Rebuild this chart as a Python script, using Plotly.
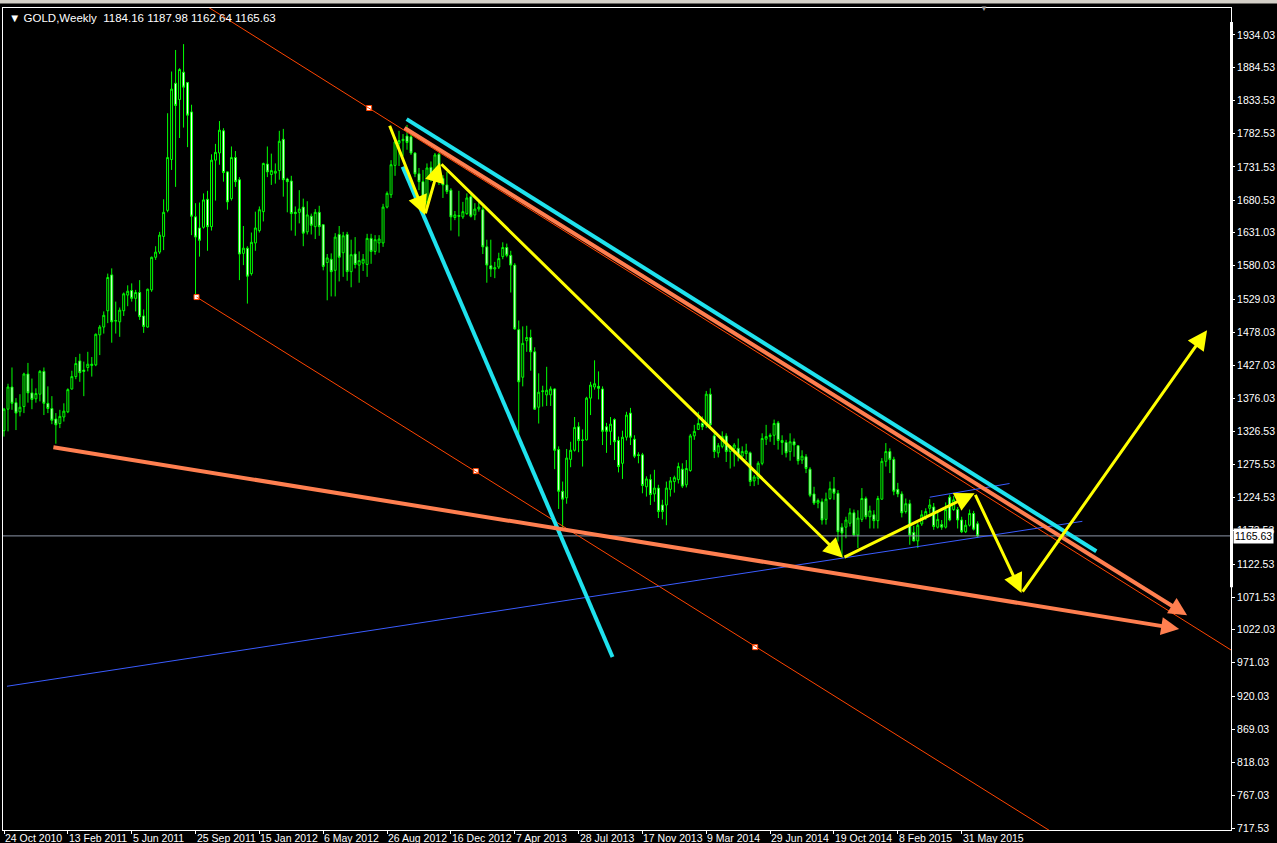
import plotly.graph_objects as go

# weekly GOLD bars, first bar = week of 24 Oct 2010
opens = [
    1327, 1360, 1394, 1370, 1356, 1364, 1414, 1385, 1376, 1383,
    1418, 1369, 1361, 1345, 1338, 1348, 1356, 1391, 1410, 1434,
    1420, 1424, 1427, 1428, 1474, 1486, 1511, 1566, 1495, 1494,
    1511, 1535, 1542, 1530, 1539, 1503, 1486, 1543, 1593, 1601,
    1625, 1665, 1743, 1860, 1835, 1877, 1861, 1816, 1655, 1638,
    1639, 1682, 1640, 1742, 1753, 1787, 1724, 1683, 1746, 1712,
    1599, 1607, 1568, 1615, 1634, 1663, 1736, 1720, 1722, 1726,
    1774, 1713, 1710, 1662, 1662, 1670, 1632, 1656, 1640, 1662,
    1643, 1585, 1590, 1573, 1628, 1600, 1628, 1571, 1598, 1581,
    1584, 1582, 1622, 1602, 1615, 1615, 1670, 1689, 1734, 1768,
    1772, 1779, 1778, 1753, 1721, 1709, 1678, 1731, 1714, 1751,
    1714, 1704, 1696, 1654, 1657, 1655, 1660, 1686, 1658, 1667,
    1666, 1609, 1580, 1575, 1578, 1594, 1608, 1596, 1581, 1482,
    1409, 1465, 1470, 1448, 1363, 1387, 1382, 1382, 1391, 1298,
    1234, 1224, 1283, 1297, 1333, 1313, 1313, 1377, 1394, 1395,
    1391, 1333, 1326, 1344, 1312, 1277, 1317, 1354, 1314, 1290,
    1290, 1241, 1252, 1230, 1239, 1213, 1213, 1237, 1249, 1252,
    1268, 1244, 1266, 1319, 1329, 1338, 1336, 1383, 1319, 1293,
    1303, 1319, 1295, 1300, 1300, 1288, 1292, 1293, 1250, 1254,
    1277, 1314, 1318, 1320, 1339, 1312, 1309, 1295, 1310, 1304,
    1282, 1287, 1268, 1230, 1216, 1218, 1191, 1223, 1238, 1231,
    1179, 1179, 1185, 1201, 1167, 1191, 1223, 1195, 1198, 1189,
    1222, 1280, 1295, 1283, 1237, 1230, 1203, 1215, 1171, 1158,
    1184, 1193, 1208, 1210, 1179, 1183, 1179, 1225, 1206, 1206,
    1190, 1172, 1182, 1200, 1184.16,
]
highs = [
    1362, 1399, 1424, 1377, 1383, 1416, 1431, 1407, 1392, 1420,
    1424, 1395, 1380, 1354, 1359, 1369, 1392, 1419, 1440, 1445,
    1433, 1448, 1440, 1476, 1489, 1510, 1568, 1576, 1525, 1516,
    1539, 1550, 1553, 1543, 1558, 1513, 1545, 1594, 1610, 1632,
    1682, 1814, 1878, 1911, 1883, 1920, 1862, 1827, 1676, 1677,
    1691, 1695, 1751, 1767, 1802, 1791, 1725, 1763, 1756, 1716,
    1641, 1610, 1631, 1663, 1671, 1738, 1763, 1752, 1737, 1787,
    1790, 1715, 1718, 1671, 1696, 1683, 1679, 1660, 1667, 1672,
    1644, 1598, 1599, 1630, 1641, 1632, 1632, 1620, 1624, 1602,
    1598, 1629, 1629, 1627, 1627, 1675, 1694, 1742, 1777, 1787,
    1782, 1796, 1783, 1754, 1730, 1727, 1737, 1740, 1753, 1753,
    1719, 1724, 1699, 1664, 1695, 1678, 1691, 1689, 1676, 1680,
    1671, 1620, 1620, 1586, 1600, 1616, 1614, 1603, 1584, 1496,
    1487, 1488, 1482, 1455, 1415, 1396, 1425, 1395, 1392, 1303,
    1249, 1299, 1310, 1348, 1340, 1329, 1379, 1402, 1435, 1418,
    1395, 1339, 1348, 1346, 1318, 1327, 1356, 1362, 1320, 1294,
    1293, 1257, 1260, 1267, 1244, 1221, 1249, 1256, 1258, 1278,
    1277, 1282, 1322, 1336, 1356, 1349, 1388, 1392, 1323, 1308,
    1326, 1323, 1305, 1308, 1315, 1303, 1307, 1295, 1259, 1280,
    1323, 1336, 1323, 1344, 1342, 1320, 1313, 1323, 1315, 1305,
    1297, 1291, 1271, 1241, 1223, 1223, 1232, 1249, 1256, 1236,
    1185, 1195, 1208, 1206, 1205, 1239, 1226, 1212, 1205, 1227,
    1285, 1308, 1300, 1287, 1247, 1234, 1223, 1221, 1181, 1185,
    1205, 1208, 1222, 1216, 1203, 1190, 1217, 1229, 1227, 1210,
    1195, 1190, 1206, 1204, 1187.98,
]
lows = [
    1318, 1326, 1359, 1328, 1349, 1354, 1370, 1360, 1370, 1372,
    1351, 1354, 1337, 1307, 1331, 1341, 1354, 1390, 1406, 1402,
    1380, 1418, 1410, 1426, 1443, 1476, 1492, 1462, 1476, 1471,
    1503, 1518, 1525, 1510, 1497, 1477, 1485, 1540, 1589, 1598,
    1604, 1662, 1727, 1701, 1776, 1792, 1762, 1627, 1533, 1594,
    1637, 1603, 1634, 1680, 1735, 1709, 1666, 1680, 1701, 1558,
    1581, 1522, 1565, 1603, 1631, 1648, 1716, 1704, 1706, 1712,
    1686, 1662, 1634, 1626, 1645, 1610, 1628, 1628, 1621, 1626,
    1573, 1527, 1533, 1533, 1556, 1563, 1557, 1547, 1576, 1554,
    1572, 1563, 1583, 1597, 1600, 1609, 1668, 1684, 1718, 1733,
    1748, 1758, 1750, 1716, 1696, 1663, 1672, 1709, 1712, 1704,
    1684, 1690, 1634, 1650, 1625, 1652, 1658, 1654, 1650, 1663,
    1598, 1554, 1563, 1561, 1575, 1590, 1593, 1539, 1482, 1322,
    1395, 1448, 1419, 1359, 1338, 1364, 1365, 1365, 1268, 1207,
    1178, 1215, 1271, 1295, 1294, 1272, 1312, 1351, 1390, 1375,
    1305, 1293, 1305, 1282, 1263, 1253, 1312, 1305, 1285, 1277,
    1231, 1226, 1213, 1218, 1193, 1191, 1182, 1226, 1232, 1246,
    1239, 1240, 1264, 1313, 1328, 1328, 1331, 1331, 1285, 1286,
    1300, 1279, 1269, 1272, 1280, 1283, 1282, 1242, 1242, 1244,
    1274, 1305, 1310, 1305, 1298, 1290, 1286, 1281, 1287, 1275,
    1276, 1262, 1225, 1213, 1208, 1183, 1183, 1221, 1221, 1157,
    1134, 1162, 1180, 1165, 1147, 1187, 1191, 1177, 1177, 1177,
    1221, 1272, 1262, 1228, 1225, 1194, 1200, 1152, 1157, 1147,
    1181, 1190, 1200, 1175, 1177, 1175, 1177, 1188, 1204, 1177,
    1170, 1170, 1180, 1174, 1162.64,
]
closes = [
    1360, 1394, 1369, 1354, 1363, 1414, 1385, 1375, 1384, 1418,
    1369, 1361, 1343, 1336, 1349, 1357, 1390, 1410, 1430, 1416,
    1418, 1429, 1429, 1475, 1486, 1504, 1562, 1494, 1496, 1512,
    1537, 1541, 1530, 1539, 1502, 1487, 1544, 1593, 1601, 1627,
    1662, 1746, 1851, 1826, 1881, 1854, 1811, 1656, 1624, 1619,
    1681, 1640, 1742, 1754, 1788, 1723, 1678, 1746, 1709, 1598,
    1607, 1564, 1616, 1638, 1666, 1737, 1724, 1726, 1725, 1771,
    1712, 1709, 1660, 1660, 1667, 1630, 1658, 1642, 1662, 1640,
    1579, 1592, 1571, 1624, 1593, 1626, 1571, 1597, 1582, 1588,
    1590, 1622, 1602, 1620, 1621, 1670, 1691, 1735, 1770, 1772,
    1774, 1769, 1753, 1721, 1709, 1678, 1730, 1714, 1750, 1714,
    1704, 1694, 1655, 1658, 1656, 1663, 1684, 1656, 1667, 1670,
    1609, 1581, 1575, 1577, 1591, 1608, 1596, 1581, 1483, 1402,
    1461, 1470, 1448, 1360, 1386, 1388, 1389, 1391, 1297, 1234,
    1222, 1285, 1297, 1332, 1312, 1312, 1377, 1397, 1399, 1392,
    1326, 1326, 1337, 1310, 1272, 1317, 1351, 1317, 1288, 1289,
    1243, 1253, 1229, 1239, 1203, 1203, 1239, 1250, 1255, 1272,
    1242, 1269, 1319, 1326, 1338, 1333, 1383, 1336, 1295, 1304,
    1318, 1295, 1303, 1305, 1288, 1295, 1296, 1249, 1256, 1277,
    1315, 1318, 1320, 1338, 1312, 1309, 1293, 1310, 1305, 1281,
    1288, 1269, 1228, 1216, 1220, 1190, 1222, 1238, 1231, 1172,
    1170, 1190, 1201, 1167, 1193, 1223, 1195, 1204, 1189, 1223,
    1280, 1295, 1283, 1234, 1230, 1201, 1215, 1167, 1158, 1182,
    1198, 1203, 1213, 1180, 1191, 1179, 1206, 1190, 1221, 1190,
    1172, 1182, 1200, 1176, 1165.63,
]
bars = list(range(len(closes)))

date_labels = ["24 Oct 2010", "13 Feb 2011", "5 Jun 2011", "25 Sep 2011", "15 Jan 2012",
               "6 May 2012", "26 Aug 2012", "16 Dec 2012", "7 Apr 2013", "28 Jul 2013",
               "17 Nov 2013", "9 Mar 2014", "29 Jun 2014", "19 Oct 2014", "8 Feb 2015",
               "31 May 2015"]
date_bars = [16 * k for k in range(len(date_labels))]

price_ticks = [1934.03, 1884.53, 1833.53, 1782.53, 1731.53, 1680.53, 1631.03, 1580.03,
               1529.03, 1478.03, 1427.03, 1376.03, 1326.53, 1275.53, 1224.53, 1173.53,
               1122.53, 1071.53, 1022.03, 971.03, 920.03, 869.03, 818.03, 767.03, 717.53]

last_price = 1165.63
title_text = "GOLD,Weekly  1184.16 1187.98 1162.64 1165.63"

# drawn objects, (bar, price) pairs
channel_top = [(48.25, 1988), (310, 981)]
channel_bottom = [(48.25, 1532), (310, 530)]
channel_points = [(91.5, 1822), (48.25, 1532), (118.25, 1265), (188.25, 995)]
cyan_lines = [[(100.9, 1805), (273.75, 1142)], [(99.9, 1732), (152.5, 980)]]
blue_lines = [[(0.75, 935), (270.25, 1188)], [(232, 1225), (252, 1246)]]
coral_arrows = [[(12, 1302), (294.5, 1023)], [(100, 1793), (296.5, 1044)]]
yellow_path = [(96.5, 1797), (105.5, 1658), (109.25, 1738), (210.25, 1132),
               (243.25, 1231), (255, 1078), (301.5, 1481)]
scale_bar = (1087, 1954)   # thick part of the right border

fig = go.Figure()

fig.add_trace(go.Candlestick(
    x=bars, open=opens, high=highs, low=lows, close=closes,
    increasing=dict(line=dict(color="#00ff00", width=1), fillcolor="black"),
    decreasing=dict(line=dict(color="#00ff00", width=1), fillcolor="white"),
    hoverinfo="skip",
))

shapes = []
def seg(p0, p1, color, width):
    shapes.append(dict(type="line", xref="x", yref="y", x0=p0[0], y0=p0[1],
                       x1=p1[0], y1=p1[1], line=dict(color=color, width=width)))

shapes.append(dict(type="line", xref="paper", yref="y", x0=0, x1=1,
                   y0=last_price, y1=last_price, line=dict(color="#8c96a8", width=1)))
seg(channel_top[0], channel_top[1], "#ff4500", 1)
seg(channel_bottom[0], channel_bottom[1], "#ff4500", 1)
for ln in blue_lines:
    seg(ln[0], ln[1], "#3a5cff", 1)
for ln in cyan_lines:
    seg(ln[0], ln[1], "#1fe2ee", 4)

# toolbar strip above the chart
shapes.append(dict(type="rect", xref="paper", yref="paper", x0=-0.01, x1=1.05,
                   y0=1.0055, y1=1.02, fillcolor="#d4d0c8", line=dict(width=0)))
# thick white segment on the right border
shapes.append(dict(type="rect", xref="paper", yref="y", xsizemode="pixel", xanchor=1,
                   x0=-1, x1=2, y0=scale_bar[0], y1=scale_bar[1],
                   fillcolor="white", line=dict(width=0)))

fig.add_trace(go.Scatter(
    x=[p[0] for p in channel_points], y=[p[1] for p in channel_points],
    mode="markers", hoverinfo="skip",
    marker=dict(symbol="square", size=5, color="white", line=dict(color="#ff4500", width=1)),
))

annotations = []
for ln in coral_arrows:
    annotations.append(dict(x=ln[1][0], y=ln[1][1], ax=ln[0][0], ay=ln[0][1],
                            xref="x", yref="y", axref="x", ayref="y", text="",
                            showarrow=True, arrowhead=2, arrowsize=0.9, arrowwidth=4,
                            arrowcolor="#ff7f50", standoff=0))
for a, b in zip(yellow_path[:-1], yellow_path[1:]):
    annotations.append(dict(x=b[0], y=b[1], ax=a[0], ay=a[1],
                            xref="x", yref="y", axref="x", ayref="y", text="",
                            showarrow=True, arrowhead=2, arrowsize=1.3, arrowwidth=3,
                            arrowcolor="#ffff00", standoff=0))

for lab, b in zip(date_labels, date_bars):
    annotations.append(dict(x=b, y=0, xref="x", yref="paper", text=lab, showarrow=False,
                            xanchor="left", yanchor="top", xshift=-1, yshift=0,
                            font=dict(family="Liberation Sans", size=10.5, color="white")))

annotations.append(dict(x=0, y=1, xref="paper", yref="paper", showarrow=False,
                        text="\u25bc " + title_text.replace(" ", "\u00a0"),
                        xanchor="left", yanchor="top", xshift=4, yshift=-2,
                        font=dict(family="Liberation Sans", size=11.5, color="white")))
annotations.append(dict(x=1, y=last_price, xref="paper", yref="y", showarrow=False,
                        text="%.2f" % last_price, xanchor="left", xshift=2,
                        bgcolor="white", borderpad=1,
                        font=dict(family="Liberation Sans", size=10.5, color="black")))
annotations.append(dict(x=245.5, y=1, xref="x", yref="paper", showarrow=False,
                        text="\u25bc", yanchor="middle",
                        font=dict(size=8, color="#a0a0a0")))

fig.update_layout(
    width=1277, height=843,
    margin=dict(l=2, r=44, t=8, b=13),
    paper_bgcolor="black", plot_bgcolor="black",
    showlegend=False,
    font=dict(family="Liberation Sans", size=10, color="white"),
    shapes=shapes, annotations=annotations,
    xaxis=dict(range=[-0.25, 307.5], showgrid=False, zeroline=False,
               showline=True, linecolor="white", linewidth=1, mirror=True,
               ticks="outside", tickvals=date_bars, ticklen=3, tickcolor="white",
               showticklabels=False, rangeslider=dict(visible=False)),
    yaxis=dict(range=[714.5, 1975.4], side="right", showgrid=False, zeroline=False,
               showline=True, linecolor="white", linewidth=1, mirror=True,
               ticks="outside", ticklen=3, tickcolor="white",
               tickvals=price_ticks, ticktext=["%.2f" % v for v in price_ticks],
               tickfont=dict(family="Liberation Sans", size=10.5, color="white")),
)

fig.write_html("out.html", config={"displayModeBar": False},
               post_script="document.body.style.margin='0';document.body.style.overflow='hidden';")
